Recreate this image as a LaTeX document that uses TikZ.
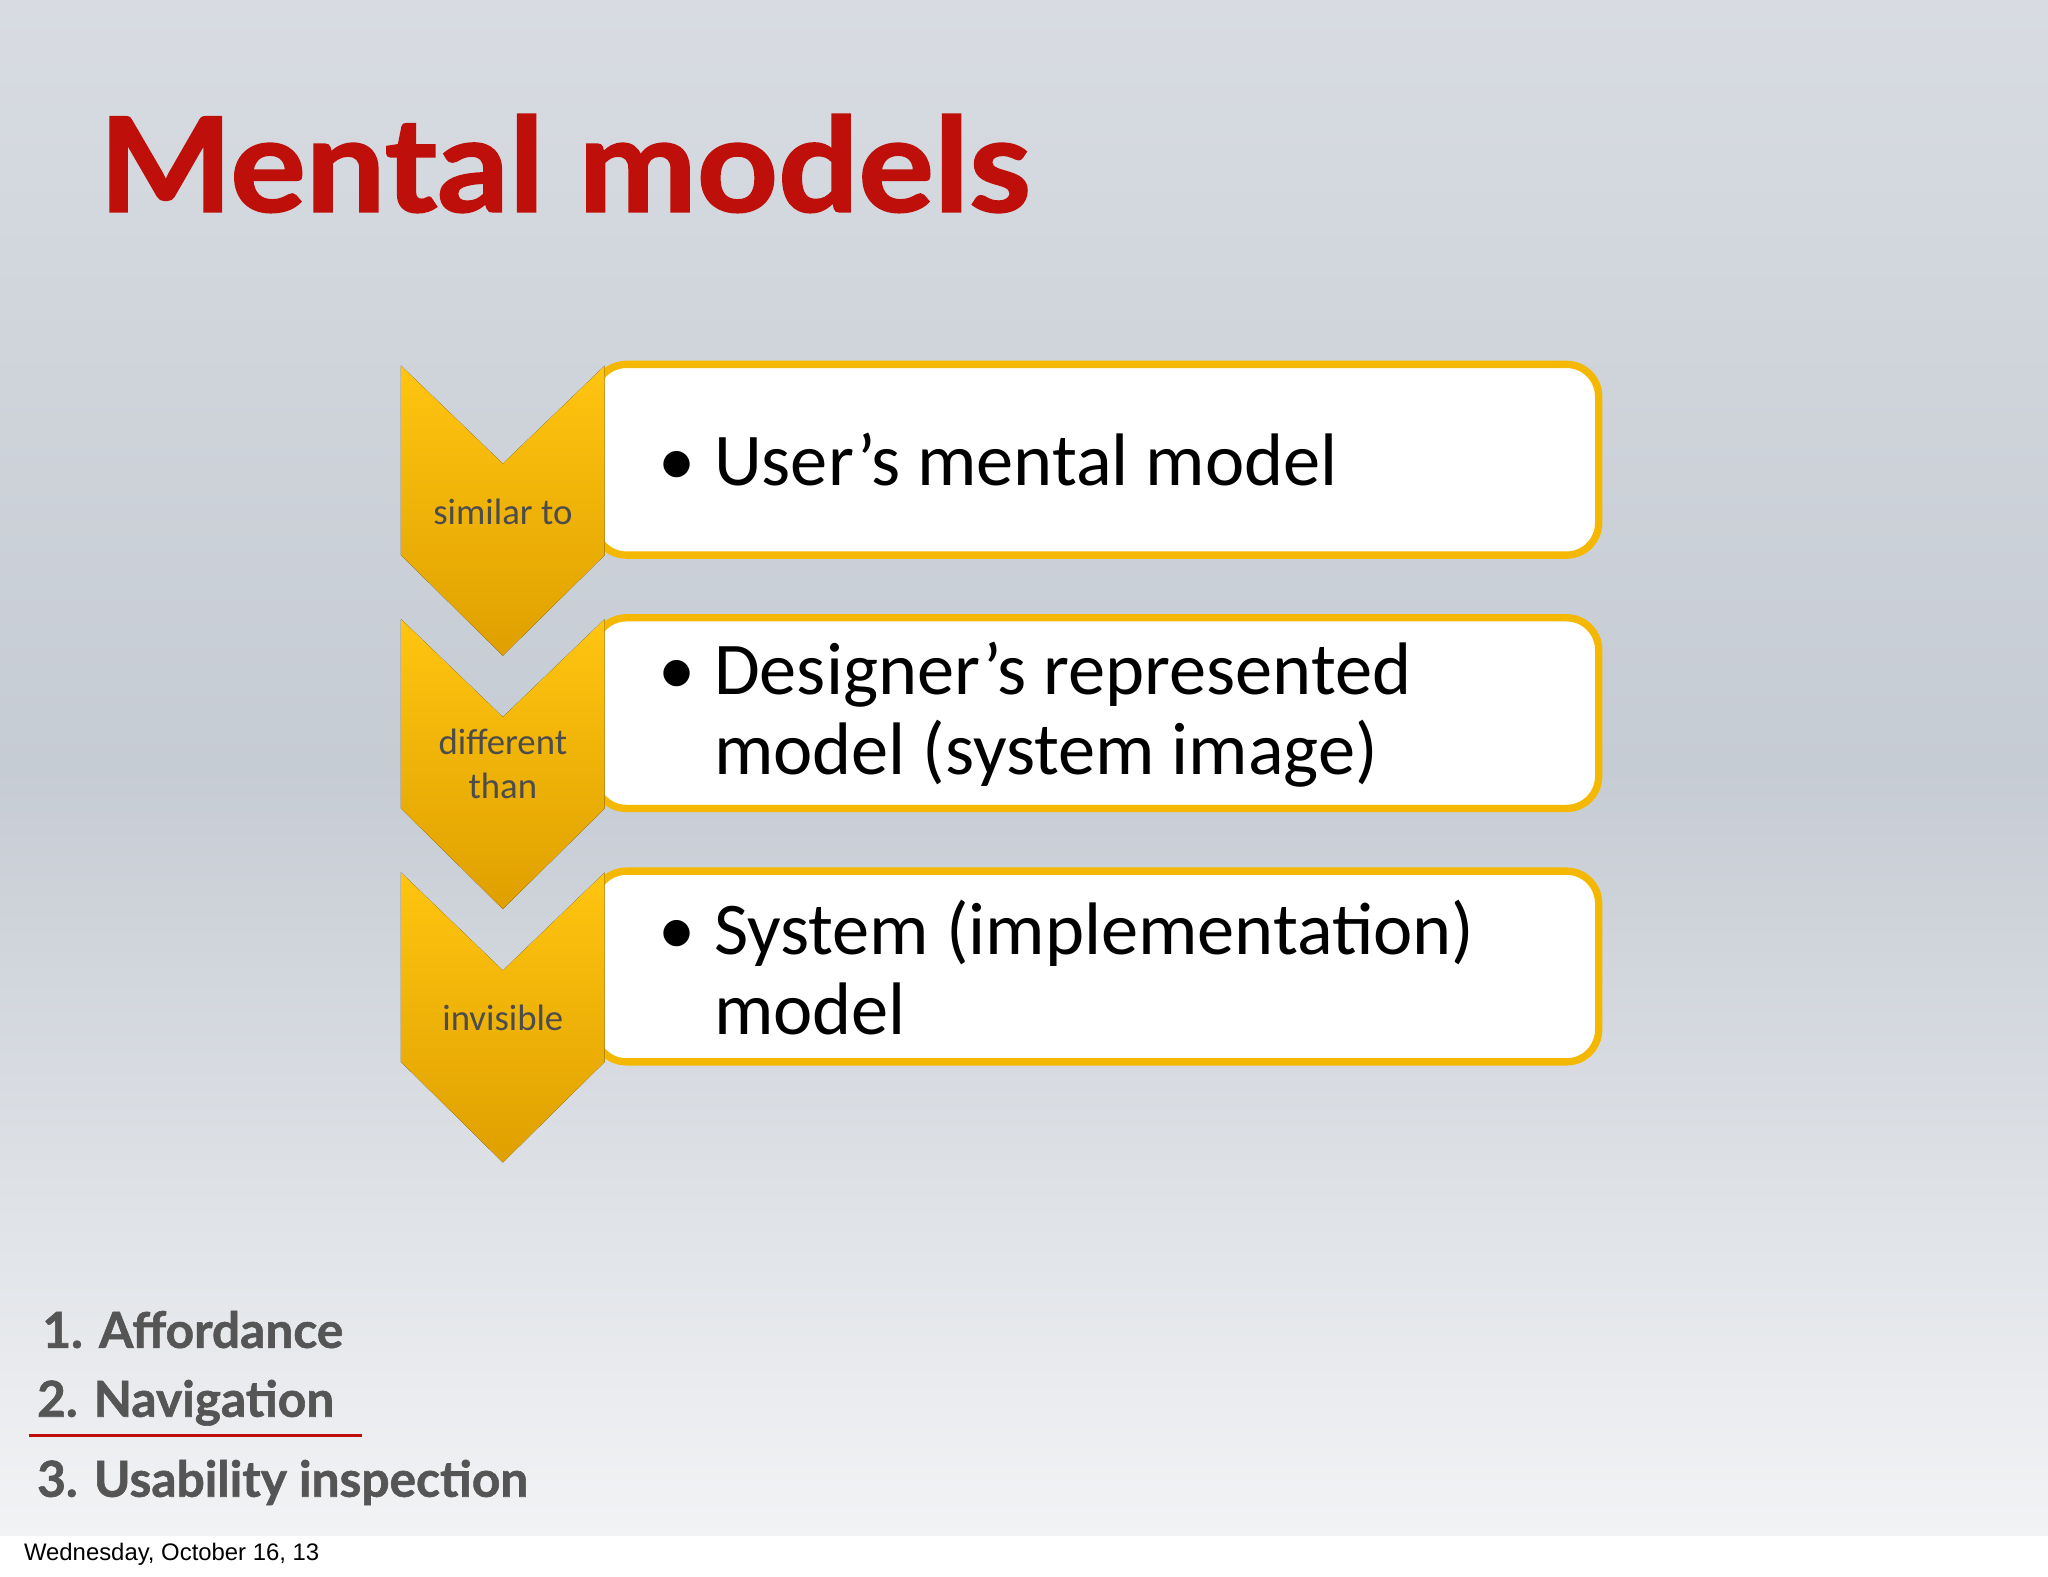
\documentclass[tikz,border=0pt]{standalone}
\usepackage{fontspec}
\setmainfont{Carlito}
\newfontfamily\gill{Lato}[FakeStretch=1.08,FakeBold=1.5]
\newfontfamily\gillb{Lato}[FakeBold=1.2]
\newfontfamily\arial{Liberation Sans}
\definecolor{gold}{HTML}{F5B800}
\definecolor{goldtop}{HTML}{FFC510}
\definecolor{goldbot}{HTML}{DFA000}
\definecolor{titlered}{HTML}{BF0F0A}
\definecolor{listgray}{HTML}{555555}
\definecolor{bgtop}{HTML}{D8DCE2}
\definecolor{bgmid}{HTML}{C6CCD4}
\definecolor{bgbot}{HTML}{F2F3F5}
\begin{document}
\begin{tikzpicture}[x=0.01cm,y=-0.01cm,
  chev/.style={top color=goldtop,bottom color=goldbot,draw=none},
  box/.style={draw=gold,line width=1.6pt,fill=white,rounded corners=7pt},
  lab/.style={font=\fontsize{8}{9.5}\selectfont,text=black!70,align=center},
  btxt/.style={font=\fontsize{16.2}{17.5}\selectfont,anchor=west,align=left},
  item/.style={font=\gillb\bfseries\fontsize{10.8}{13}\selectfont,text=listgray,anchor=west}]
\useasboundingbox (0,0) rectangle (1568,1207);
\shade[top color=bgtop, bottom color=bgbot, middle color=bgmid] (0,0) rectangle (1568,1176);
\fill[white] (0,1176) rectangle (1568,1207);
\node[anchor=west,font=\arial\fontsize{5.2}{6}\selectfont] (date) at (6,1190) {Wednesday, October 16, 13};
\node[anchor=base west,inner sep=0,font=\gill\bfseries\fontsize{28.5}{30}\selectfont,text=titlered] (title) at (75,162) {Mental models};
\foreach \i/\y in {1/0,2/194,3/388}{
  \draw[box] (455,279+\y) rectangle (1224,425+\y);
}
\foreach \i/\y in {1/0,2/194,3/388}{
  \fill[chev] (307,280+\y) -- (385,355+\y) -- (463,280+\y) -- (463,425+\y) -- (385,502+\y) -- (307,425+\y) -- cycle;
}
\node[lab] (l1) at (385,392) {similar to};
\node[lab] (l2) at (385,585) {different\\than};
\node[lab] (l3) at (385,779) {invisible};
\node[btxt] (b1) at (492,352) {\textbullet\hspace{1.4mm}User’s mental model};
\node[btxt] (b2) at (492,547) {\textbullet\hspace{1.4mm}Designer’s represented\\\phantom{\textbullet}\hspace{1.4mm}model (system image)};
\node[btxt] (b3) at (492,741) {\textbullet\hspace{1.4mm}System (implementation)\\\phantom{\textbullet}\hspace{1.4mm}model};
\node[item] (i1) at (20,1018) {1. Affordance};
\node[item] (i2) at (16,1074) {2. Navigation};
\node[item] (i3) at (16,1135) {3. Usability inspection};
\draw[titlered,line width=0.8pt] (22,1099) -- (277,1099);
\end{tikzpicture}
\end{document}
